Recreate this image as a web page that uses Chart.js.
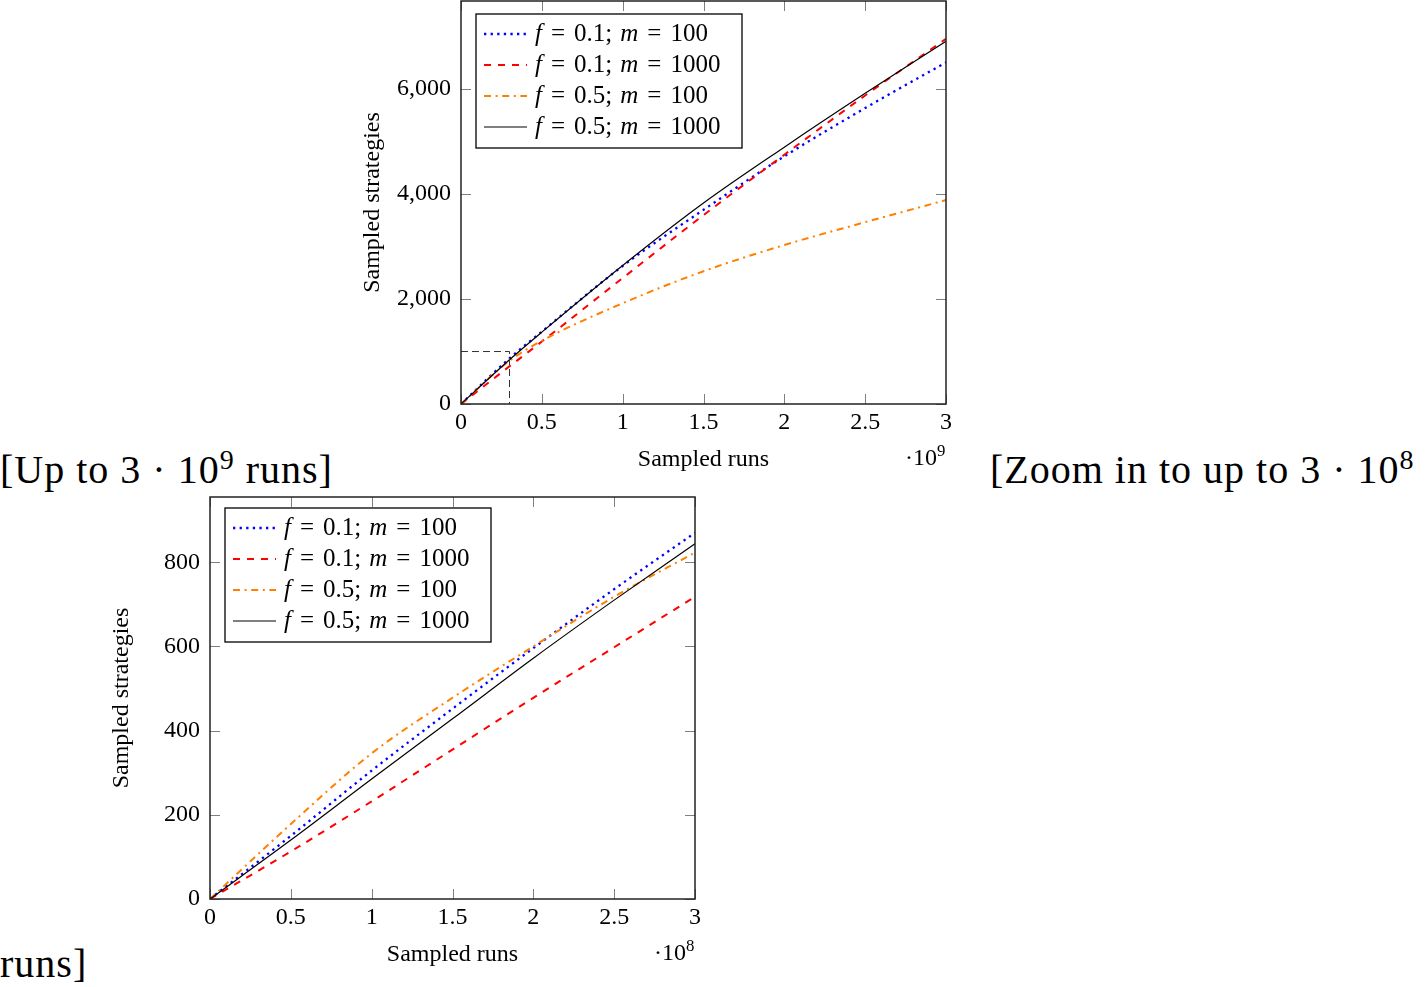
<!DOCTYPE html>
<html>
<head>
<meta charset="utf-8">
<script src="https://cdn.jsdelivr.net/npm/chart.js@4.4.1/dist/chart.umd.min.js"></script>
<style>
	body {
		margin: 0;
		width: 1428px;
		height: 987px;
		overflow: hidden;
		position: relative;
		background: #fff;
		font-family: 'Liberation Serif', serif;
		color: #000;
	}
	canvas {
		position: absolute;
	}
	#chartLarge {
		left: 340px;
		top: 0;
	}
	#chartSmall {
		left: 89px;
		top: 495px;
	}
	.caption {
		position: absolute;
		font-size: 40px;
		line-height: 1;
		white-space: nowrap;
		letter-spacing: 1px;
	}
	.exponent {
		position: absolute;
		font-size: 24px;
		line-height: 1;
		white-space: nowrap;
	}
	sup {
		font-size: 0.7em;
		line-height: 0;
	}
</style>
</head>
<body>
<canvas id="chartLarge" width="620" height="480"></canvas>
<canvas id="chartSmall" width="620" height="480"></canvas>

<div class="caption" style="left: 0; top: 450px">[Up to 3 · 10<sup>9</sup> runs]</div>
<div class="caption" style="left: 990px; top: 450px">[Zoom in to up to 3 · 10<sup>8</sup></div>
<div class="caption" style="left: 0; top: 944px">runs]</div>
<div class="exponent" style="left: 905px; top: 445px">·10<sup>9</sup></div>
<div class="exponent" style="left: 654px; top: 940px">·10<sup>8</sup></div>

<script>
// top chart: sampled runs in units of 10^9
const RUNS_LARGE = [0, 0.3, 0.5, 1, 1.5, 2, 2.5, 3];
const F01_M100_LARGE = [0, 870, 1380, 2630, 3700, 4720, 5640, 6510];
const F01_M1000_LARGE = [0, 718, 1190, 2400, 3600, 4750, 5880, 6960];
const F05_M100_LARGE = [0, 823, 1204, 1920, 2530, 3030, 3465, 3886];
const F05_M1000_LARGE = [0, 844, 1370, 2640, 3830, 4895, 5920, 6914];
const ZOOM_BOX_X = [0, 0.3, 0.3];
const ZOOM_BOX_Y = [1000, 1000, 0];

// bottom chart: sampled runs in units of 10^8
const RUNS_SMALL = [0, 0.5, 1, 1.5, 2, 2.5, 3];
const F01_M100_SMALL = [0, 150, 305, 452, 596, 736, 870];
const F01_M1000_SMALL = [0, 113, 232, 355, 478, 598, 718];
const F05_M100_SMALL = [0, 178, 346, 478, 600, 718, 823];
const F05_M1000_SMALL = [0, 140, 285, 428, 572, 710, 844];

const SERIES_LABELS = ['f = 0.1; m = 100', 'f = 0.1; m = 1000', 'f = 0.5; m = 100', 'f = 0.5; m = 1000'];
const X_TICKS = [0, 0.5, 1, 1.5, 2, 2.5, 3];
const Y_TICKS_LARGE = [0, 2000, 4000, 6000];
const Y_TICKS_SMALL = [0, 200, 400, 600, 800];

const SERIES_STYLES = [
	{ color: '#0000ff', dash: [2.3, 4.3], width: 2.3 },
	{ color: '#ff0000', dash: [7, 7], width: 2 },
	{ color: '#ff8000', dash: [7, 4.6, 2, 4.6], width: 2 },
	{ color: '#000000', dash: [], width: 1.2 },
];

Chart.defaults.font.family = "'Liberation Serif', serif";
Chart.defaults.font.size = 24;
Chart.defaults.color = '#000';

function toPoints(xs, ys) {
	return xs.map((x, i) => ({ x: x, y: ys[i] }));
}

function buildDatasets(xs, seriesList) {
	return seriesList.map((ys, i) => ({
		label: SERIES_LABELS[i],
		data: toPoints(xs, ys),
		borderColor: SERIES_STYLES[i].color,
		borderDash: SERIES_STYLES[i].dash,
		borderWidth: SERIES_STYLES[i].width,
		pointRadius: 0,
		fill: false,
		cubicInterpolationMode: 'monotone',
		order: 4 - i,
	}));
}

// inward tick marks on all four sides plus the frame
const axisFramePlugin = {
	id: 'axisFrame',
	beforeDatasetsDraw(chart) {
		const { ctx, chartArea: a, scales } = chart;
		ctx.save();
		ctx.strokeStyle = 'rgba(0, 0, 0, 0.5)';
		ctx.lineWidth = 1;
		ctx.beginPath();
		scales.x.ticks.forEach(t => {
			const px = Math.round(scales.x.getPixelForValue(t.value)) + 0.5;
			ctx.moveTo(px, a.bottom);
			ctx.lineTo(px, a.bottom - 10);
			ctx.moveTo(px, a.top);
			ctx.lineTo(px, a.top + 10);
		});
		scales.y.ticks.forEach(t => {
			const py = Math.round(scales.y.getPixelForValue(t.value)) + 0.5;
			ctx.moveTo(a.left, py);
			ctx.lineTo(a.left + 10, py);
			ctx.moveTo(a.right, py);
			ctx.lineTo(a.right - 10, py);
		});
		ctx.stroke();
		ctx.restore();
	},
	afterDatasetsDraw(chart) {
		const { ctx, chartArea: a } = chart;
		ctx.save();
		ctx.strokeStyle = '#222';
		ctx.lineWidth = 1.5;
		ctx.strokeRect(a.left, a.top, a.right - a.left, a.bottom - a.top);
		ctx.restore();
	},
};

// math-style label: italic single letters, wider space around '='
function drawMathLabel(ctx, text, x, y) {
	let cx = x;
	const tokens = text.split(' ');
	tokens.forEach((token, i) => {
		ctx.font = (/^[a-z]$/.test(token) ? 'italic ' : '') + "25px 'Liberation Serif', serif";
		ctx.fillText(token, cx, y);
		const next = tokens[i + 1];
		cx += ctx.measureText(token).width + (token === '=' || next === '=' ? 9 : 8);
	});
}

const legendBoxPlugin = {
	id: 'legendBox',
	afterDatasetsDraw(chart, args, opts) {
		const { ctx, chartArea: a } = chart;
		const items = chart.data.datasets.filter(ds => ds.label);
		const left = a.left + 15;
		const top = a.top + opts.top;
		ctx.save();
		ctx.fillStyle = '#fff';
		ctx.fillRect(left, top, 266, 134);
		ctx.strokeStyle = '#000';
		ctx.lineWidth = 1.3;
		ctx.setLineDash([]);
		ctx.strokeRect(left, top, 266, 134);
		ctx.textBaseline = 'middle';
		ctx.fillStyle = '#000';
		items.forEach((ds, i) => {
			const y = top + 20 + i * 31;
			ctx.beginPath();
			ctx.setLineDash(ds.borderDash);
			ctx.strokeStyle = ds.borderColor;
			ctx.lineWidth = ds.borderWidth;
			ctx.moveTo(left + 8, y);
			ctx.lineTo(left + 51, y);
			ctx.stroke();
			drawMathLabel(ctx, ds.label, left + 59, y);
		});
		ctx.restore();
	},
};

function makeChart(canvas, datasets, yMax, yTicks, topPad, legendTop) {
	return new Chart(canvas, {
		type: 'line',
		data: { datasets: datasets },
		options: {
			responsive: false,
			animation: false,
			layout: { padding: { top: topPad, right: 14, left: 0, bottom: 0 } },
			scales: {
				x: {
					type: 'linear',
					min: 0,
					max: 3,
					afterBuildTicks: s => {
						s.ticks = X_TICKS.map(v => ({ value: v }));
					},
					afterFit: s => {
						s.height = 76;
						s.paddingLeft = 0;
						s.paddingRight = 0;
					},
					ticks: { padding: 4, maxRotation: 0, callback: v => String(v) },
					grid: { display: false, drawTicks: false },
					border: { display: false },
					title: { display: true, text: 'Sampled runs', padding: { top: 0, bottom: 6 } },
				},
				y: {
					type: 'linear',
					min: 0,
					max: yMax,
					afterBuildTicks: s => {
						s.ticks = yTicks.map(v => ({ value: v }));
					},
					afterFit: s => {
						s.width = 121;
						s.paddingTop = 0;
						s.paddingBottom = 0;
					},
					ticks: {
						padding: 10,
						callback: v => v.toLocaleString('en-US'),
					},
					grid: { display: false, drawTicks: false },
					border: { display: false },
					title: { display: true, text: 'Sampled strategies', padding: { top: 18, bottom: 0 } },
				},
			},
			plugins: {
				legend: { display: false },
				tooltip: { enabled: false },
				legendBox: { top: legendTop },
			},
		},
		plugins: [axisFramePlugin, legendBoxPlugin],
	});
}

const largeDatasets = buildDatasets(RUNS_LARGE, [F01_M100_LARGE, F01_M1000_LARGE, F05_M100_LARGE, F05_M1000_LARGE]);
largeDatasets.push({
	data: toPoints(ZOOM_BOX_X, ZOOM_BOX_Y),
	borderColor: '#333',
	borderDash: [7, 4],
	borderWidth: 1,
	pointRadius: 0,
	fill: false,
	tension: 0,
	order: 0,
});

const smallDatasets = buildDatasets(RUNS_SMALL, [F01_M100_SMALL, F01_M1000_SMALL, F05_M100_SMALL, F05_M1000_SMALL]);

makeChart(document.querySelector('#chartLarge'), largeDatasets, 7680, Y_TICKS_LARGE, 1, 13);
makeChart(document.querySelector('#chartSmall'), smallDatasets, 955, Y_TICKS_SMALL, 2, 11);
</script>
</body>
</html>
